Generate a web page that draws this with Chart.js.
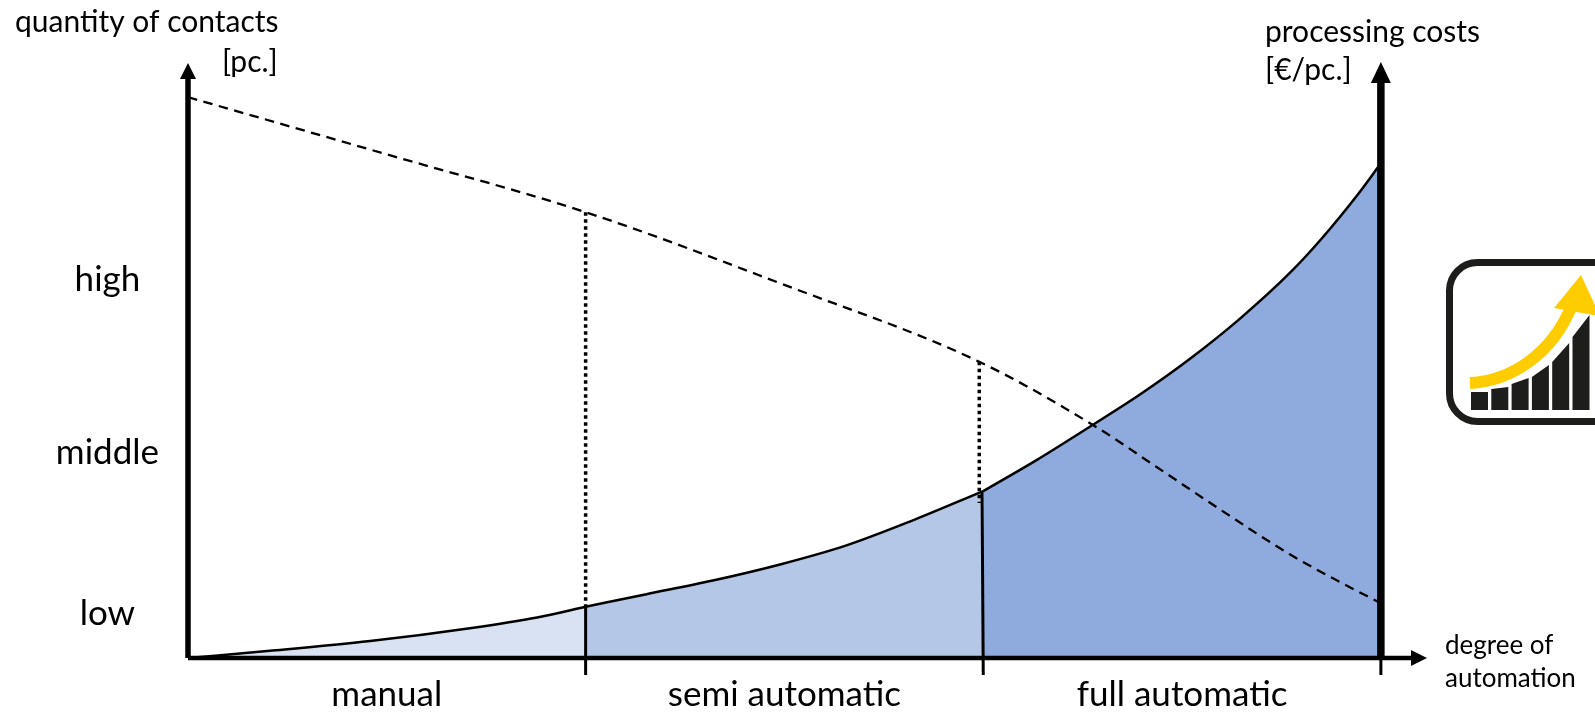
<!DOCTYPE html>
<html><head><meta charset="utf-8">
<style>html,body{margin:0;padding:0;background:#fff}canvas{display:block}</style>
<script src="https://cdn.jsdelivr.net/npm/chart.js@4/dist/chart.umd.min.js"></script>
</head><body><canvas id="c" width="1595" height="714"></canvas>
<script>
const categories = ['manual','semi automatic','full automatic'];
const categoryCenters = [0.5,1.5,2.5];
const levelLabels = ['low','middle','high'];
const levelValues = [7.5,34.5,63.5];
const manualCostX = [0,0.206,0.458,0.709,0.878,1];
const manualCostY = [0,1.2,2.85,5.0,6.8,8.6];
const semiCostX = [1,1.153,1.320,1.489,1.656,1.823,2];
const semiCostY = [8.6,10.7,13.0,15.7,18.9,23.1,28];
const fullCostX = [2,2.134,2.268,2.394,2.52,2.645,2.771,2.854,2.94,3];
const fullCostY = [28,33.2,38.8,44.2,50.2,56.9,64.6,70.6,77.6,83];
const contactsX = [0,0.5,1,1.5,1.99,2.288,2.437,2.603,2.771,2.897,3];
const contactsY = [94.1,84.5,74.8,62.6,49.7,38.6,32.0,24.6,17.4,12.75,9.2];
const dottedX = [1,1.99];
const dottedTop = [74.8,49.7];
const dottedBottom = [8.6,26];
const dividerTop = [8.6,28,0];
const dividerTopX = [1,1.997,3];
const dividerBottomX = [1,2,3];
const tickBottom = -2.85;
const xMax = 3.116, yMax = 100;
const iconBars = [[392,392],[389,387],[384,378],[377,365],[362,343],[337,315]];

const zip=(xs,ys)=>xs.map((x,i)=>({x,y:ys[i]}));
const FONT='Lato, "Open Sans", sans-serif';
const ds=[];
const black='#000';
ds.push({data:zip(manualCostX,manualCostY),borderColor:black,borderWidth:2.5,backgroundColor:'#D9E2F3',fill:'origin',cubicInterpolationMode:'monotone',order:10});
ds.push({data:zip(semiCostX,semiCostY),borderColor:black,borderWidth:2.5,backgroundColor:'#B4C7E7',fill:'origin',cubicInterpolationMode:'monotone',order:10});
ds.push({data:zip(fullCostX,fullCostY),borderColor:black,borderWidth:2.5,backgroundColor:'#8FAADC',fill:'origin',cubicInterpolationMode:'monotone',order:10});
ds.push({data:zip(contactsX,contactsY),borderColor:black,borderWidth:2.3,borderDash:[9.5,6.5],fill:false,order:5,cubicInterpolationMode:'monotone'});
dottedX.forEach((x,i)=>ds.push({data:[{x,y:dottedTop[i]},{x,y:dottedBottom[i]}],borderColor:black,borderWidth:3.5,borderDash:[3.5,3.5],fill:false,order:4}));
dividerTopX.forEach((x,i)=>ds.push({data:[{x,y:dividerTop[i]},{x:dividerBottomX[i],y:tickBottom}],borderColor:black,borderWidth:3,fill:false,order:3,clip:false}));
ds.push({data:[{x:0,y:0},{x:xMax-0.04,y:0}],borderColor:black,borderWidth:4.5,fill:false,order:2,clip:false});
ds.push({data:[{x:0,y:0},{x:0,y:yMax-2.5}],borderColor:black,borderWidth:5.5,fill:false,order:2,clip:false});
ds.push({data:[{x:3,y:0},{x:3,y:yMax-3}],borderColor:black,borderWidth:7.5,fill:false,order:2,clip:false});

const overlay={id:'overlay',afterDraw(chart){
  const c=chart.ctx,X=chart.scales.x,Y=chart.scales.y;
  const tri=(a,b,d)=>{c.beginPath();c.moveTo(...a);c.lineTo(...b);c.lineTo(...d);c.closePath();c.fill();};
  c.save();c.fillStyle='#000';
  const l=X.getPixelForValue(0),r=X.getPixelForValue(3),top=Y.getPixelForValue(yMax),z=Y.getPixelForValue(0),e=X.getPixelForValue(xMax);
  tri([l,top+1],[l-8,top+17],[l+8,top+17]);
  tri([r,top],[r-10,top+21],[r+10,top+21]);
  tri([e,z],[e-16,z-8],[e-16,z+8]);
  c.textBaseline='alphabetic';c.textAlign='left';
  c.font='30px '+FONT;
  c.fillText('quantity of contacts',15,32);
  c.fillText('[pc.]',222,72);
  c.fillText('processing costs',1265,42);
  c.fillText('[€/pc.]',1265,80);
  c.font='26px '+FONT;
  c.fillText('degree of',1445,654);
  c.fillText('automation',1445,687);
  // icon
  c.strokeStyle='#1d1d1b';c.lineWidth=7;
  c.beginPath();c.roundRect(1449.5,262.5,190,159,28);c.stroke();
  c.fillStyle='#1d1d1b';
  iconBars.forEach((t,i)=>{const bx=1471+i*20.3;c.beginPath();c.moveTo(bx,410);c.lineTo(bx,t[0]);c.lineTo(bx+17,t[1]);c.lineTo(bx+17,410);c.closePath();c.fill();});
  c.strokeStyle='#FFCC00';c.lineWidth=12;
  c.beginPath();c.moveTo(1470,383);c.bezierCurveTo(1510,381,1552,355,1572,305);c.stroke();
  c.fillStyle='#FFCC00';
  tri([1581,275],[1554,308],[1600,316]);
  c.restore();
}};

new Chart(document.getElementById('c'),{
  type:'line',
  data:{datasets:ds},
  plugins:[overlay],
  options:{
    responsive:false,animation:false,
    layout:{padding:{top:62,right:168,left:0,bottom:0}},
    elements:{point:{radius:0}},
    plugins:{legend:{display:false},tooltip:{enabled:false},title:{display:false}},
    scales:{
      x:{type:'linear',min:0,max:xMax,border:{display:false},grid:{display:false},
        afterBuildTicks(s){s.ticks=categoryCenters.map(v=>({value:v}));},
        afterFit(s){s.height=56;},
        ticks:{autoSkip:false,maxRotation:0,color:'#000',padding:8,font:{family:FONT,size:35},
          callback:(v)=>categories[categoryCenters.indexOf(v)]}},
      y:{type:'linear',min:0,max:yMax,border:{display:false},grid:{display:false},
        afterBuildTicks(s){s.ticks=levelValues.map(v=>({value:v}));},
        afterFit(s){s.width=188;},
        ticks:{autoSkip:false,color:'#000',padding:21,crossAlign:'center',font:{family:FONT,size:35},
          callback:(v)=>levelLabels[levelValues.indexOf(v)]}}
    }
  }
});
</script></body></html>
